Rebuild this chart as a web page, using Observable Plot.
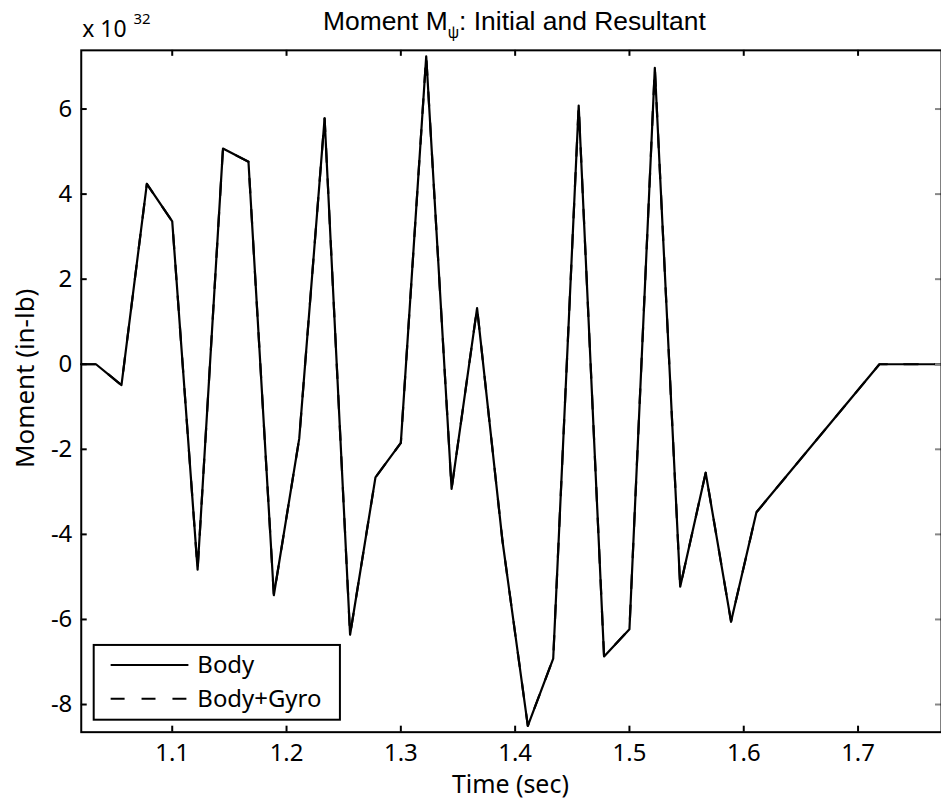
<!DOCTYPE html>
<html><head><meta charset="utf-8">
<script src="https://cdn.jsdelivr.net/npm/d3@7"></script>
<script src="https://cdn.jsdelivr.net/npm/@observablehq/plot@0.6"></script>
<style>html,body{margin:0;padding:0;background:#fff;overflow:hidden;}</style>
</head><body><div id="chart"></div>
<script>
// ---- data ----
const times = [1.0204, 1.0333, 1.0556, 1.0778, 1.1000, 1.1222, 1.1444, 1.1667, 1.1889, 1.2111,
               1.2333, 1.2556, 1.2778, 1.3000, 1.3222, 1.3444, 1.3667, 1.3889, 1.4111, 1.4333,
               1.4556, 1.4778, 1.5000, 1.5222, 1.5444, 1.5667, 1.5889, 1.6111, 1.7187, 1.7730];
const body = [0, 0, -0.49, 4.24, 3.36, -4.83, 5.07, 4.76, -5.43, -1.75,
              5.78, -6.36, -2.66, -1.85, 7.24, -2.93, 1.32, -4.15, -8.50, -6.92,
              6.08, -6.87, -6.23, 6.97, -5.23, -2.55, -6.05, -3.48, 0, 0];
const bodyGyro = [0, 0, -0.49, 4.24, 3.36, -4.83, 5.07, 4.76, -5.43, -1.75,
              5.78, -6.36, -2.66, -1.85, 7.24, -2.93, 1.32, -4.15, -8.50, -6.92,
              6.08, -6.87, -6.23, 6.97, -5.23, -2.55, -6.05, -3.48, 0, 0];
const seriesNames = ["Body", "Body+Gyro"];
const xTicks = [1.1, 1.2, 1.3, 1.4, 1.5, 1.6, 1.7];
const yTicks = [-8, -6, -4, -2, 0, 2, 4, 6];
const xDomain = [1.0204, 1.773];
const yDomain = [-8.65, 7.38];
const titleParts = ["Moment M", "\u03C8", ": Initial and Resultant"];
const exponentParts = ["x 10", "32"];
const xLabel = "Time (sec)";
const yLabel = "Moment (in-lb)";

// ---- layout ----
const W = 944, H = 806, mT = 50, mB = 72, mL = 81, mR = 0;
const frameW = W - mL - mR, frameH = H - mT - mB;
const tick = 6;
const font = "'Noto Sans', sans-serif";

const data = times.map((t, i) => ({t, body: body[i], gyro: bodyGyro[i]}));

const chart = Plot.plot({
  width: W, height: H,
  marginTop: mT, marginBottom: mB, marginLeft: mL, marginRight: mR,
  style: {fontFamily: font, fontSize: "24px", background: "white", color: "black", overflow: "visible"},
  x: {domain: xDomain, label: null},
  y: {domain: yDomain, label: null},
  marks: [
    Plot.line(data, {x: "t", y: "gyro", stroke: "black", strokeWidth: 2.2, strokeDasharray: "14,17"}),
    Plot.line(data, {x: "t", y: "body", stroke: "black", strokeWidth: 2.2}),
    Plot.ruleX(xTicks, {x: d => d, insetTop: frameH - tick, stroke: "black", strokeWidth: 2}),
    Plot.ruleX(xTicks, {x: d => d, insetBottom: frameH - tick, stroke: "black", strokeWidth: 2}),
    Plot.ruleY(yTicks, {y: d => d, insetRight: frameW - tick, stroke: "black", strokeWidth: 2}),
    Plot.ruleY(yTicks, {y: d => d, insetLeft: frameW - tick, stroke: "#888", strokeWidth: 2}),
    Plot.frame({stroke: "black", strokeWidth: 2}),
    Plot.axisX({ticks: xTicks, tickSize: 0, tickPadding: 12, tickFormat: d => d.toFixed(1), label: null}),
    Plot.axisY({ticks: yTicks, tickSize: 0, tickPadding: 9, tickFormat: d => String(d), label: null}),
    Plot.text([xLabel], {frameAnchor: "bottom", lineAnchor: "top", dy: 43, dx: -1, fontSize: 25}),
    Plot.text([yLabel], {frameAnchor: "left", textAnchor: "middle", lineAnchor: "middle", rotate: -90, dx: -56, dy: -13, fontSize: 26}),
    Plot.text([titleParts.join("")], {frameAnchor: "top", textAnchor: "middle", lineAnchor: "middle", dy: -29, dx: 3, fontSize: 26.5,
      fontFamily: "'Liberation Sans', Arial, sans-serif"}),
    Plot.text([exponentParts.join("^")], {frameAnchor: "top-left", lineAnchor: "middle", textAnchor: "start", dy: -21, dx: 1, fontSize: 23})
  ]
});

document.getElementById("chart").appendChild(chart);
const svg = d3.select(chart);

// title with subscript, exponent with superscript
svg.selectAll("text").each(function() {
  const t = this.textContent;
  if (t === titleParts.join("")) {
    const el = d3.select(this); el.text(null);
    el.append("tspan").text(titleParts[0]);
    el.append("tspan").attr("font-size", 16).attr("dy", 8).text(titleParts[1]);
    el.append("tspan").attr("dy", -8).text(titleParts[2]);
  } else if (t === exponentParts.join("^")) {
    const el = d3.select(this); el.text(null);
    el.append("tspan").text(exponentParts[0]);
    el.append("tspan").attr("font-size", 15).attr("dx", 7).attr("dy", -13).text(exponentParts[1]);
  }
});

// legend box
const lg = svg.append("g").attr("font-family", font).attr("font-size", 24).attr("text-anchor", "start");
const bx = 94, by = 647, bw = 247, bh = 75;
lg.append("rect").attr("x", bx).attr("y", by).attr("width", bw).attr("height", bh)
  .attr("fill", "white").attr("stroke", "black").attr("stroke-width", 2);
seriesNames.forEach((name, i) => {
  const yy = by + 20 + i * 34;
  lg.append("line").attr("x1", bx + 17).attr("x2", bx + 95).attr("y1", yy).attr("y2", yy)
    .attr("stroke", "black").attr("stroke-width", 2)
    .attr("stroke-dasharray", i === 1 ? "14,17" : null);
  lg.append("text").attr("x", bx + 104).attr("y", yy).attr("dy", "0.35em").text(name);
});
</script>
</body></html>
